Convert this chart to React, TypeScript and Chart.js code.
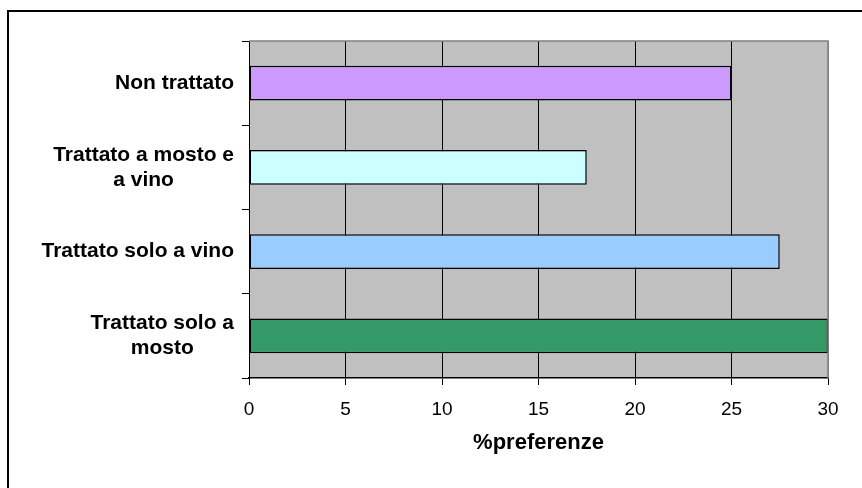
import React, { useEffect, useRef } from "react";
import { Chart, registerables } from "chart.js";

Chart.register(...registerables);

const categories: string[][] = [
  ["Non trattato"],
  ["Trattato a mosto e", "a vino"],
  ["Trattato solo a vino"],
  ["Trattato solo a", "mosto"],
];
const values: number[] = [25, 17.5, 27.5, 30];
const barColors: string[] = ["#CC99FF", "#CCFFFF", "#99CCFF", "#339966"];
const xTicks: number[] = [0, 5, 10, 15, 20, 25, 30];
const axisTitle = "%preferenze";

const FONT = "'Liberation Sans', Arial, sans-serif";

const plotBackground = {
  id: "plotBackground",
  beforeDraw(chart: any) {
    const { ctx, chartArea } = chart;
    ctx.save();
    ctx.fillStyle = "#C0C0C0";
    ctx.fillRect(chartArea.left, chartArea.top, chartArea.right - chartArea.left, chartArea.bottom - chartArea.top);
    ctx.restore();
  },
  afterDraw(chart: any) {
    const { ctx, chartArea } = chart;
    ctx.save();
    ctx.strokeStyle = "#808080";
    ctx.lineWidth = 1.5;
    ctx.beginPath();
    ctx.moveTo(chartArea.left, chartArea.top);
    ctx.lineTo(chartArea.right, chartArea.top);
    ctx.lineTo(chartArea.right, chartArea.bottom);
    ctx.stroke();
    // category labels: block right-aligned, lines centered inside the block
    const yScale = chart.scales.y;
    ctx.font = `bold 21px ${FONT}`;
    ctx.fillStyle = "#000";
    ctx.textAlign = "center";
    ctx.textBaseline = "middle";
    const lineH = 25;
    const rightEdge = 234;
    categories.forEach((lines, i) => {
      const y = yScale.getPixelForValue(i);
      const maxW = Math.max(...lines.map((l) => ctx.measureText(l).width));
      const cx = rightEdge - maxW / 2;
      const startY = y - ((lines.length - 1) * lineH) / 2;
      lines.forEach((l, j) => {
        ctx.fillText(l, cx, startY + j * lineH);
      });
    });
    ctx.restore();
  },
};

export default function App() {
  const ref = useRef<HTMLCanvasElement | null>(null);

  useEffect(() => {
    if (!ref.current) return;
    const chart = new Chart(ref.current, {
      type: "bar",
      data: {
        labels: categories.map((c) => c.join(" ")),
        datasets: [
          {
            data: values,
            backgroundColor: barColors,
            borderColor: "#000000",
            borderWidth: 1.5,
            borderSkipped: false,
            barPercentage: 0.41,
            categoryPercentage: 1,
          },
        ],
      },
      options: {
        indexAxis: "y",
        animation: false,
        responsive: false,
        maintainAspectRatio: false,
        layout: { padding: { top: 41, right: 34, left: 0, bottom: 0 } },
        plugins: { legend: { display: false }, tooltip: { enabled: false } },
        scales: {
          x: {
            type: "linear",
            min: 0,
            max: 30,
            afterBuildTicks: (scale: any) => {
              scale.ticks = xTicks.map((v) => ({ value: v }));
            },
            afterFit: (scale: any) => {
              scale.height = 110;
            },
            grid: {
              color: (c: any) => (c.tick && c.tick.value === 30 ? "#808080" : "#000000"),
              lineWidth: 1,
              tickLength: 7,
              drawTicks: true,
              tickColor: "#000000",
            },
            border: { display: true, color: "#000000", width: 1.5 },
            ticks: {
              color: "#000000",
              font: { family: FONT, size: 19 },
              padding: 13,
              maxRotation: 0,
            },
            title: {
              display: true,
              text: axisTitle,
              color: "#000000",
              font: { family: FONT, size: 22, weight: "bold" },
              padding: { top: 0, bottom: 32 },
            },
          },
          y: {
            afterFit: (scale: any) => {
              scale.width = 249;
            },
            grid: {
              offset: true,
              drawOnChartArea: false,
              tickLength: 7,
              color: "#000000",
            },
            border: { display: true, color: "#000000", width: 1 },
            ticks: { display: false },
          },
        },
      },
      plugins: [plotBackground],
    });
    return () => chart.destroy();
  }, []);

  return (
    <div style={{ position: "fixed", left: 0, top: 0, width: 862, height: 488, overflow: "hidden", background: "#fff" }}>
      <div
        style={{
          position: "absolute",
          left: 7,
          top: 10,
          width: 1000,
          height: 1000,
          border: "2px solid #000",
          boxSizing: "border-box",
        }}
      />
      <canvas ref={ref} width={862} height={488} style={{ position: "absolute", left: 0, top: 0, display: "block" }} />
    </div>
  );
}
